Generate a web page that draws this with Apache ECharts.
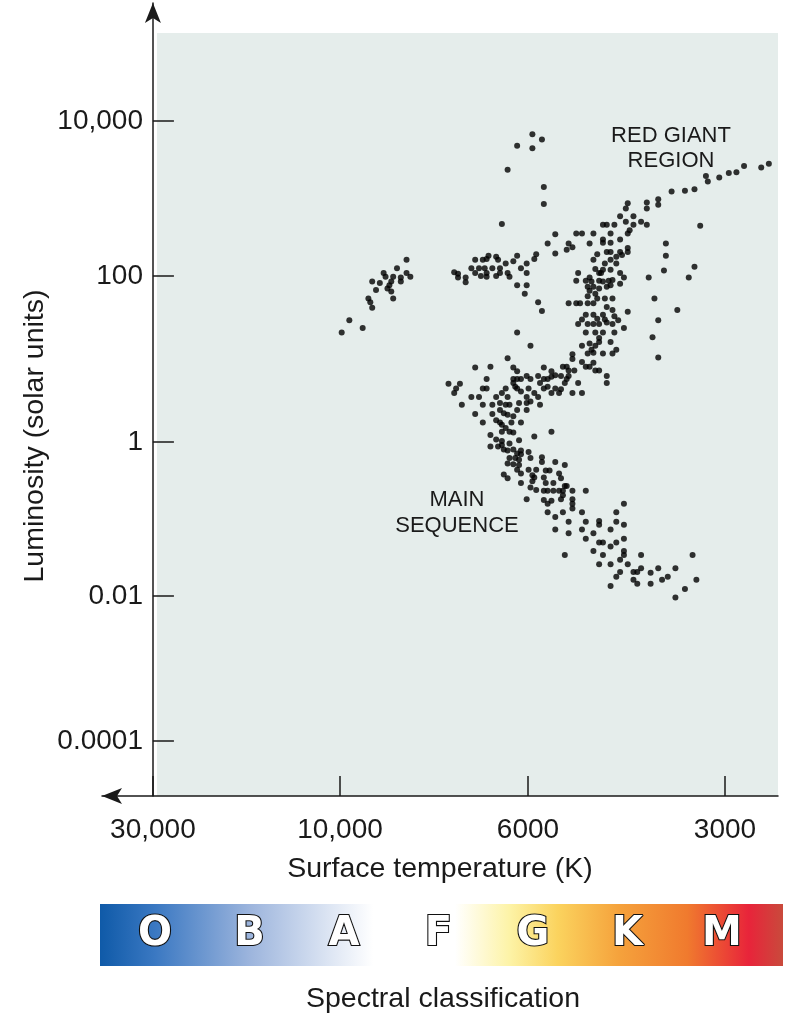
<!DOCTYPE html>
<html><head><meta charset="utf-8">
<script src="https://cdn.jsdelivr.net/npm/echarts@6/dist/echarts.min.js"></script>
<style>html,body{margin:0;padding:0;background:#fff}#c{width:787px;height:1014px}</style>
</head><body><div id="c"></div>
<script>
// Temperature axis (non-linear spectral scale): tick labels and where they sit on the scale
const xTickLabels = ['30,000', '10,000', '6000', '3000'];
const xTickPos = [0, 0.981, 1.967, 3.0];
// Luminosity axis (log scale, schematic): tick labels and their scale positions
const yTickLabels = ['0.0001', '0.01', '1', '100', '10,000'];
const yTickPos = [-4, -2.129, -0.142, 2, 4];
const spectralClasses = ['O', 'B', 'A', 'F', 'G', 'K', 'M'];

// Stars: [temperature-scale position, log luminosity]
const leftGiants = [[1.33,2.21],[1.28,2.10],[1.33,2.04],[1.35,1.99],[1.21,2.04],[1.22,1.99],[1.26,1.99],[1.30,1.98],[1.30,1.93],[1.15,1.93],[1.19,1.91],[1.25,1.93],[1.24,1.88],[1.23,1.84],[1.17,1.82],[1.25,1.80],[1.13,1.71],[1.26,1.71],[1.14,1.66],[1.15,1.59],[1.03,1.43],[1.10,1.33],[0.99,1.27]];
const giantBranch = [[1.99,3.83],[2.04,3.76],[1.91,3.68],[1.99,3.65],[1.86,3.37],[2.05,3.15],[2.05,2.93],[1.83,2.67],[2.11,2.54],[2.07,2.42],[2.11,2.29],[2.01,2.28],[2.00,2.22],[1.91,2.26],[1.89,2.19],[1.96,2.16],[1.93,2.10],[1.96,2.04],[1.69,2.21],[1.73,2.21],[1.75,2.22],[1.76,2.26],[1.80,2.25],[1.81,2.21],[1.85,2.16],[1.82,2.10],[1.78,2.10],[1.74,2.10],[1.71,2.10],[1.67,2.10],[1.58,2.05],[1.60,2.03],[1.60,1.98],[1.64,1.98],[1.64,1.92],[1.69,2.04],[1.72,2.00],[1.75,1.99],[1.75,2.04],[1.80,2.00],[1.82,2.04],[1.86,2.04],[1.87,1.99],[1.91,1.88],[1.96,1.88],[1.95,1.77]];
const redGiants = [[2.72,3.09],[2.65,2.99],[2.65,2.92],[2.59,2.95],[2.59,2.87],[2.49,2.94],[2.48,2.87],[2.45,2.77],[2.48,2.70],[2.52,2.77],[2.52,2.66],[2.56,2.70],[2.59,2.66],[2.36,2.66],[2.38,2.66],[2.42,2.66],[2.50,2.59],[2.49,2.55],[2.22,2.55],[2.25,2.55],[2.31,2.55],[2.40,2.55],[2.36,2.47],[2.45,2.47],[2.40,2.43],[2.36,2.43],[2.49,2.36],[2.49,2.31],[2.18,2.42],[2.17,2.34],[2.20,2.37],[2.29,2.42],[2.69,2.42],[2.69,2.26],[2.68,2.07],[2.60,1.98],[2.38,2.31],[2.40,2.31],[2.45,2.31],[2.46,2.27],[2.33,2.28],[2.43,2.25],[2.40,2.21],[2.37,2.16],[2.31,2.21],[2.43,2.16],[2.36,2.08],[2.32,2.09],[2.40,2.08],[2.34,2.04],[2.35,2.04],[2.45,2.04],[2.23,2.04],[2.22,1.94],[2.27,1.94],[2.29,1.98],[2.30,1.93],[2.34,1.94],[2.36,1.93],[2.39,1.94],[2.41,1.95],[2.47,1.98],[2.45,1.90],[2.38,1.86],[2.40,1.88],[2.28,1.86],[2.31,1.86],[2.34,1.84],[2.29,1.81],[2.32,1.77],[2.28,1.74],[2.33,1.71],[2.37,1.71],[2.41,1.71],[2.63,1.71],
  [3.23,3.45],[3.19,3.40],[3.10,3.42],[3.06,3.34],[3.02,3.33],[2.97,3.27],[2.90,3.29],[2.91,3.22],[2.84,3.12],[2.79,3.10],[2.87,2.65],[2.84,2.12],[2.81,1.98]];
const subgiants = [[2.18,1.65],[2.22,1.65],[2.24,1.65],[2.28,1.65],[2.31,1.65],[2.38,1.60],[2.41,1.56],[2.49,1.54],[2.75,1.56],[2.27,1.50],[2.31,1.50],[2.36,1.50],[2.25,1.44],[2.33,1.45],[2.37,1.44],[2.38,1.40],[2.42,1.48],[2.44,1.43],[2.65,1.43],[2.23,1.38],[2.28,1.38],[2.31,1.38],[2.34,1.38],[2.41,1.38],[2.47,1.33],[2.27,1.27],[2.32,1.27],[2.36,1.27],[2.42,1.27],[2.34,1.20],[2.34,1.15],[2.40,1.15],[2.62,1.21],[2.25,1.10],[2.29,1.13],[2.32,1.10],[2.30,1.05],[2.31,1.01],[2.28,1.00],[2.36,1.00],[2.41,1.00],[2.43,1.05],[2.20,0.99],[2.20,0.93],[2.25,0.89],[2.27,0.83],[2.29,0.83],[2.31,0.88],[2.32,0.78],[2.34,0.78],[2.15,0.83],[2.17,0.83],[2.18,0.78],[2.21,0.78],[2.14,0.71],[2.17,0.67],[2.18,0.71],[2.38,0.71],[2.38,0.62],[2.23,0.62],[2.16,0.62],[2.14,0.54],[2.20,0.49],[2.25,0.49],[2.65,0.95]];
const mainSequence = [[2.02,1.66],[2.04,1.55],[1.91,1.27],[1.98,1.10],[1.86,0.94],[1.69,0.82],[1.77,0.83],[1.89,0.82],[1.91,0.77],[1.75,0.67],[1.55,0.61],[1.61,0.61],[1.59,0.55],[1.58,0.49],[1.73,0.55],[1.75,0.55],[1.67,0.44],[1.71,0.44],[1.80,0.44],[1.83,0.49],[1.85,0.55],[1.89,0.67],[1.91,0.67],[1.89,0.62],[1.90,0.57],[1.91,0.55],[1.93,0.67],[1.96,0.71],[1.98,0.67],[1.97,0.55],[1.93,0.51],[2.05,0.82],[2.09,0.77],[2.02,0.71],[2.05,0.67],[2.07,0.67],[2.09,0.70],[2.11,0.72],[2.03,0.62],[2.05,0.55],[2.07,0.57],[2.11,0.55],[2.13,0.49],[2.09,0.49],[2.00,0.49],[1.96,0.44],[1.86,0.44],[2.02,0.44],
  [1.62,0.34],[1.73,0.34],[1.78,0.34],[1.82,0.36],[1.85,0.34],[1.87,0.34],[1.92,0.36],[1.96,0.36],[1.98,0.38],[2.03,0.34],[1.69,0.22],[1.78,0.22],[1.82,0.27],[1.84,0.23],[1.86,0.21],[1.89,0.19],[1.91,0.27],[1.96,0.27],[1.73,0.11],[1.80,0.14],[1.82,0.11],[1.83,0.08],[1.88,0.11],[1.93,0.11],[1.85,0.04],[1.83,-0.01],[1.87,-0.01],[1.89,-0.02],[2.09,-0.01],[1.77,-0.05],[1.80,-0.11],[1.83,-0.13],[1.87,-0.16],[1.92,-0.12],[2.00,-0.07],[1.77,-0.20],[1.81,-0.20],[1.83,-0.18],[1.84,-0.24],[1.86,-0.25],[1.89,-0.24],[1.93,-0.25],[1.93,-0.30],[1.97,-0.27],[1.91,-0.29],[1.90,-0.35],[1.92,-0.37],[1.87,-0.35],[1.86,-0.42],[1.89,-0.43],[1.92,-0.44],[1.98,-0.35],[2.04,-0.34],[2.04,-0.40],[2.11,-0.40],[2.16,-0.44],[1.91,-0.50],[1.97,-0.50],[2.01,-0.50],[2.06,-0.51],[2.08,-0.51],[1.84,-0.56],[1.86,-0.61],[1.93,-0.55],[1.99,-0.57],[2.00,-0.60],[2.05,-0.60],[2.13,-0.55],[2.14,-0.61],[1.93,-0.67],[1.99,-0.65],[1.98,-0.73],[2.01,-0.76],[1.96,-0.88],
  [2.06,-0.67],[2.10,-0.67],[2.16,-0.71],[2.17,-0.71],[2.05,-0.77],[2.07,-0.77],[2.10,-0.77],[2.13,-0.77],[2.15,-0.77],[2.20,-0.77],[2.27,-0.77],[2.15,-0.83],[2.14,-0.88],[2.20,-0.88],[2.20,-0.94],[2.20,-1.00],[2.05,-0.89],[2.07,-0.94],[2.09,-0.90],[2.07,-1.05],[2.11,-1.11],[2.15,-1.05],[2.25,-1.05],[2.47,-0.94],[2.43,-1.05],[2.18,-1.17],[2.27,-1.17],[2.34,-1.16],[2.34,-1.21],[2.43,-1.17],[2.47,-1.21],[2.11,-1.27],[2.25,-1.27],[2.18,-1.32],[2.31,-1.32],[2.40,-1.27],[2.27,-1.39],[2.34,-1.44],[2.36,-1.44],[2.43,-1.44],[2.40,-1.49],[2.47,-1.39],[2.47,-1.55],[2.47,-1.60],[2.31,-1.55],[2.36,-1.60],[2.16,-1.60],[2.56,-1.60],[2.83,-1.60],[2.45,-1.66],[2.34,-1.72],[2.40,-1.72],[2.49,-1.72],[2.52,-1.82],[2.54,-1.82],[2.56,-1.77],[2.61,-1.83],[2.65,-1.77],[2.74,-1.77],[2.45,-1.82],[2.43,-1.88],[2.52,-1.92],[2.54,-1.97],[2.61,-1.97],[2.67,-1.92],[2.70,-1.88],[2.85,-1.92],[2.40,-2.00],[2.79,-2.04],[2.74,-2.15]];

const FONT = '"Liberation Sans", Arial, Helvetica, sans-serif';
const INK = '#1a1a1a';
function lookup(pos, labels, v) {
  let best = 0;
  for (let i = 1; i < pos.length; i++) if (Math.abs(pos[i] - v) < Math.abs(pos[best] - v)) best = i;
  return labels[best];
}

const chart = echarts.init(document.getElementById('c'), null, { renderer: 'canvas' });
const stars = [].concat(leftGiants, giantBranch, redGiants, subgiants, mainSequence);

const graphics = [
  { type: 'rect', z: -10, silent: true, shape: { x: 157, y: 33, width: 621, height: 763 }, style: { fill: '#e5edeb' } },
  { type: 'text', x: 35, y: 436, rotation: Math.PI / 2, silent: true,
    style: { text: 'Luminosity (solar units)', font: '28.5px ' + FONT, fill: INK, align: 'center', verticalAlign: 'middle' } },
  { type: 'text', x: 671, y: 148, silent: true,
    style: { text: 'RED GIANT\nREGION', font: '22px ' + FONT, lineHeight: 25, fill: INK, align: 'center', verticalAlign: 'middle' } },
  { type: 'text', x: 457, y: 513, silent: true,
    style: { text: 'MAIN\nSEQUENCE', font: '22px ' + FONT, lineHeight: 26, fill: INK, align: 'center', verticalAlign: 'middle' } },
  { type: 'rect', silent: true, shape: { x: 100, y: 904, width: 683, height: 62 },
    style: { fill: new echarts.graphic.LinearGradient(0, 0, 1, 0, [
      { offset: 0.00, color: '#0f5aa8' },
      { offset: 0.08, color: '#3a78c2' },
      { offset: 0.22, color: '#9db5dd' },
      { offset: 0.34, color: '#dfe7f4' },
      { offset: 0.40, color: '#ffffff' },
      { offset: 0.52, color: '#ffffff' },
      { offset: 0.60, color: '#fdf3a6' },
      { offset: 0.67, color: '#fbd35e' },
      { offset: 0.76, color: '#f5a23c' },
      { offset: 0.86, color: '#f07a2e' },
      { offset: 0.95, color: '#e8243a' },
      { offset: 1.00, color: '#c94a3c' }
    ]) } },
  { type: 'text', x: 443, y: 999, silent: true,
    style: { text: 'Spectral classification', font: '28.5px ' + FONT, fill: INK, align: 'center', verticalAlign: 'middle' } }
];
spectralClasses.forEach(function (c, i) {
  graphics.push({ type: 'text', x: 155 + i * 94.5, y: 935, silent: true,
    style: { text: c, font: 'bold 40px "DejaVu Sans", sans-serif', fill: '#ffffff', stroke: '#111111', lineWidth: 2.2, align: 'center', verticalAlign: 'middle' } });
});

chart.setOption({
  animation: false,
  grid: { left: 102, right: 9, top: 3, bottom: 218 },
  xAxis: {
    type: 'value', min: -0.267, max: 3.278,
    axisLine: { onZero: false, symbol: ['arrow', 'none'], symbolSize: [12, 20], lineStyle: { color: INK, width: 1.5 } },
    axisTick: { show: true, inside: true, length: 20, customValues: xTickPos, lineStyle: { color: INK, width: 1.5 } },
    axisLabel: { customValues: xTickPos, formatter: function (v) { return lookup(xTickPos, xTickLabels, v); },
      margin: 20, fontSize: 28, color: INK, fontFamily: FONT },
    splitLine: { show: false },
    name: 'Surface temperature (K)', nameLocation: 'middle', nameGap: 59,
    nameTextStyle: { fontSize: 28.5, color: INK, fontFamily: FONT }
  },
  yAxis: {
    type: 'value', min: -4.71, max: 5.523,
    axisLine: { onZero: true, symbol: ['none', 'arrow'], symbolSize: [12, 20], lineStyle: { color: INK, width: 1.5 } },
    axisTick: { show: true, inside: true, length: 21, customValues: yTickPos, lineStyle: { color: INK, width: 1.5 } },
    axisLabel: { customValues: yTickPos, formatter: function (v) { return lookup(yTickPos, yTickLabels, v); },
      margin: -41, fontSize: 28, color: INK, fontFamily: FONT },
    splitLine: { show: false }
  },
  series: [{
    type: 'scatter', data: stars, symbolSize: 6, silent: true,
    itemStyle: { color: '#000000' }
  }],
  graphic: graphics
});
</script>
</body></html>
